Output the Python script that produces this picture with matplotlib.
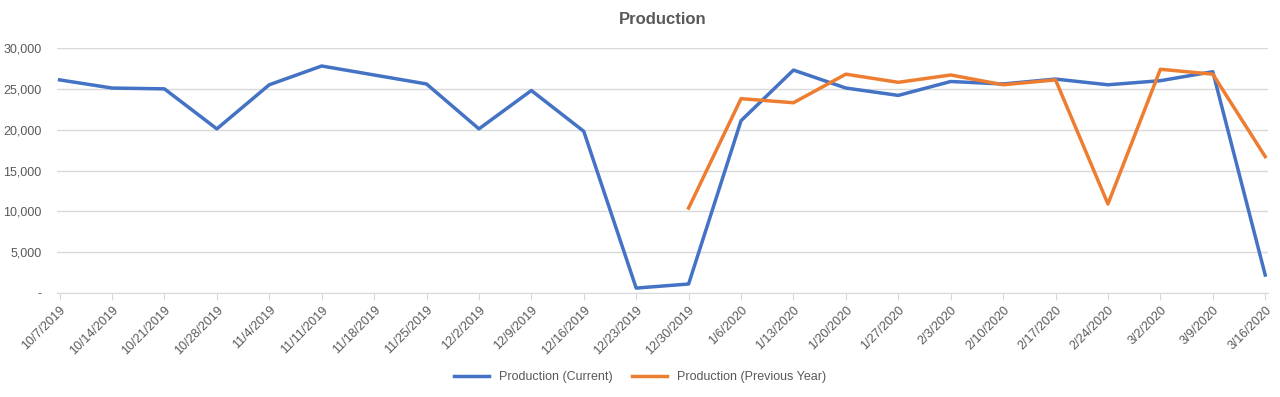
import numpy as np
import matplotlib.pyplot as plt
from matplotlib.ticker import FuncFormatter

plt.rcParams['font.family'] = ['Liberation Sans', 'DejaVu Sans']

weeks = ["10/7/2019", "10/14/2019", "10/21/2019", "10/28/2019", "11/4/2019",
         "11/11/2019", "11/18/2019", "11/25/2019", "12/2/2019", "12/9/2019",
         "12/16/2019", "12/23/2019", "12/30/2019", "1/6/2020", "1/13/2020",
         "1/20/2020", "1/27/2020", "2/3/2020", "2/10/2020", "2/17/2020",
         "2/24/2020", "3/2/2020", "3/9/2020", "3/16/2020"]

current = [26100, 25100, 25000, 20100, 25500, 27800, 26700, 25600, 20100, 24800,
           19800, 600, 1100, 21100, 27300, 25100, 24200, 25900, 25600, 26200,
           25500, 26000, 27100, 2200]

previous = [np.nan] * 12 + [10400, 23800, 23300, 26800, 25800, 26700, 25500,
                            26100, 10900, 27400, 26800, 16700]

grey = "#595959"
fig = plt.figure(figsize=(12.8, 3.97), dpi=100)
ax = fig.add_axes([0.0445, 0.262, 0.946, 0.617])

x = np.arange(len(weeks))
ax.plot(x, current, color="#4472C4", lw=2.5, label="Production (Current)",
        solid_joinstyle="round")
ax.plot(x, previous, color="#ED7D31", lw=2.5, label="Production (Previous Year)",
        solid_joinstyle="round")

ax.set_ylim(0, 30000)
ax.set_xlim(-0.05, len(weeks) - 0.95)
ax.set_yticks(np.arange(0, 30001, 5000))
ax.yaxis.set_major_formatter(FuncFormatter(lambda v, p: "-" if v == 0 else f"{int(v):,}"))
ax.set_xticks(x)
ax.set_xticklabels(weeks, rotation=45, ha="right", rotation_mode="anchor")

ax.grid(axis="y", color="#D9D9D9", lw=1)
ax.set_axisbelow(True)
for s in ["top", "right", "left"]:
    ax.spines[s].set_visible(False)
ax.spines["bottom"].set_color("#D9D9D9")
ax.tick_params(axis="y", length=0, labelsize=9, labelcolor=grey, pad=11)
ax.tick_params(axis="x", length=5, color="#D9D9D9", labelsize=9, labelcolor=grey, pad=3)

ax.set_title("Production", fontsize=12, fontweight="bold", color=grey, pad=17)
fig.legend(loc="center", bbox_to_anchor=(0.5, 0.05), ncol=2, frameon=False,
           fontsize=9, labelcolor=grey, handlelength=2.8, columnspacing=1.5)

fig.savefig("out.png", dpi=100)
